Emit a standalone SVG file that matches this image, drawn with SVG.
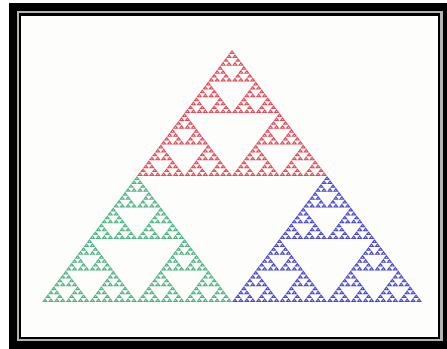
<svg xmlns="http://www.w3.org/2000/svg" xmlns:xlink="http://www.w3.org/1999/xlink" width="447" height="349" viewBox="0 0 447 349">
<style>
.red{fill:#e04a58}
.green{fill:#4cb283}
.blue{fill:#4646d2}
.hole{fill:#fdfdfb}
</style>
<defs>
<g id="s0"><polygon points="0.5,0 1,1 0,1"/><polygon class="hole" points="0.37,0.58 0.63,0.58 0.5,0.82"/></g>
<g id="s1"><use href="#s0" transform="translate(.25,0) scale(.5)"/><use href="#s0" transform="translate(0,.5) scale(.5)"/><use href="#s0" transform="translate(.5,.5) scale(.5)"/></g>
<g id="s2"><use href="#s1" transform="translate(.25,0) scale(.5)"/><use href="#s1" transform="translate(0,.5) scale(.5)"/><use href="#s1" transform="translate(.5,.5) scale(.5)"/></g>
<g id="s3"><use href="#s2" transform="translate(.25,0) scale(.5)"/><use href="#s2" transform="translate(0,.5) scale(.5)"/><use href="#s2" transform="translate(.5,.5) scale(.5)"/></g>
<g id="s4"><use href="#s3" transform="translate(.25,0) scale(.5)"/><use href="#s3" transform="translate(0,.5) scale(.5)"/><use href="#s3" transform="translate(.5,.5) scale(.5)"/></g>
<g id="s5"><use href="#s4" transform="translate(.25,0) scale(.5)"/><use href="#s4" transform="translate(0,.5) scale(.5)"/><use href="#s4" transform="translate(.5,.5) scale(.5)"/></g>
</defs>
<g id="frame">
<rect x="9" y="3" width="438" height="346" fill="#000"/>
<rect x="17" y="11" width="426" height="330" fill="#b4b4b4"/>
<rect x="19" y="13" width="421" height="326" fill="#000"/>
<rect x="21" y="16" width="417" height="321" fill="#fdfdfb"/>
</g>
<g id="red-triangle"><use href="#s5" class="red" transform="translate(137,50) scale(190,126)"/></g>
<g id="green-triangle"><use href="#s5" class="green" transform="translate(42,176) scale(190,126)"/></g>
<g id="blue-triangle"><use href="#s5" class="blue" transform="translate(232,176) scale(190,126)"/></g>
</svg>
